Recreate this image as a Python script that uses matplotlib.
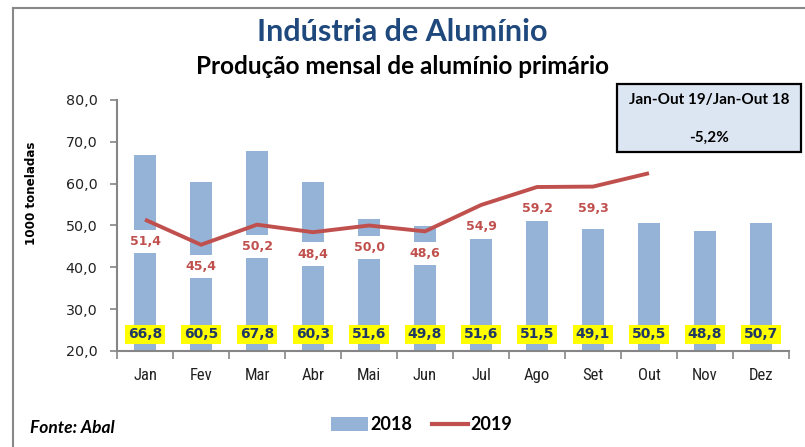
import matplotlib
matplotlib.use("Agg")
import matplotlib.pyplot as plt
from matplotlib import font_manager
from matplotlib.lines import Line2D
from matplotlib.patches import Rectangle, Patch
import matplotlib.transforms as mtrans
import numpy as np

# ---------------- data ----------------
months = ["Jan", "Fev", "Mar", "Abr", "Mai", "Jun", "Jul", "Ago", "Set", "Out", "Nov", "Dez"]
prod_2018 = [66.8, 60.5, 67.8, 60.3, 51.6, 49.8, 51.6, 51.5, 49.1, 50.5, 48.8, 50.7]
prod_2019 = [51.4, 45.4, 50.2, 48.4, 50.0, 48.6, 54.9, 59.2, 59.3, 62.5, np.nan, np.nan]
labels_2019 = ["51,4", "45,4", "50,2", "48,4", "50,0", "48,6", "54,9", "59,2", "59,3", "", "", ""]
labels_2018 = ["66,8", "60,5", "67,8", "60,3", "51,6", "49,8", "51,6", "51,5", "49,1", "50,5", "48,8", "50,7"]
y_ticks = [20, 30, 40, 50, 60, 70, 80]
y_tick_labels = ["20,0", "30,0", "40,0", "50,0", "60,0", "70,0", "80,0"]
title = "Indústria de Alumínio"
subtitle = "Produção mensal de alumínio primário"
ylabel = "1000 toneladas"
source = "Fonte: Abal"
box_line1 = "Jan-Out 19/Jan-Out 18"
box_line2 = "-5,2%"
series_names = ["2018", "2019"]

# ---------------- fonts ----------------
avail = {f.name for f in font_manager.fontManager.ttflist}
def pick(*names):
    for n in names:
        if n in avail:
            return n
    return "DejaVu Sans"
F_HUM = pick("Lato", "Open Sans", "DejaVu Sans")
F_NARROW = pick("Liberation Sans Narrow", "Roboto Condensed", "Lato")
F_WIDE = "DejaVu Sans"

BAR_C = "#95b3d7"
LINE_C = "#c0504d"
NAVY = "#1f3864"

W, H = 805, 447
fig = plt.figure(figsize=(W / 100, H / 100), dpi=100)
fig.patch.set_facecolor("white")

def fx(px):
    return px / W
def fy(py):
    return 1 - py / H

ax = fig.add_axes([fx(117), fy(351), fx(789) - fx(117), fy(100) - fy(351)])
x = np.arange(len(months))

ax.bar(x, prod_2018, width=0.39, color=BAR_C, zorder=2)
ax.plot(x, prod_2019, color=LINE_C, lw=2.8, zorder=5, solid_capstyle="butt")

for i, (v, lab) in enumerate(zip(prod_2019, labels_2019)):
    if lab:
        ax.annotate(lab, xy=(i, v), xytext=(0, -15.8), textcoords="offset points",
                    ha="center", va="center", color=LINE_C, fontsize=9,
                    fontweight="bold", family=F_WIDE, zorder=4,
                    bbox=dict(boxstyle="square,pad=0.42", fc="white", ec="none"))

trans = mtrans.blended_transform_factory(ax.transData, ax.transAxes)
for i, lab in enumerate(labels_2018):
    ax.text(i, 0.067, lab, transform=trans, ha="center", va="center",
            color=NAVY, fontsize=10, fontweight="bold", family=F_WIDE, zorder=6,
            bbox=dict(boxstyle="square,pad=0.18", fc="#ffff00", ec="none"))

ax.set_xlim(-0.5, len(months) - 0.5)
ax.set_ylim(20, 80)
ax.set_yticks(y_ticks)
ax.set_yticklabels(y_tick_labels, family=F_WIDE, fontsize=10.3, color="#222222")
ax.set_xticks(x)
ax.set_xticklabels(months, family=F_NARROW, fontsize=12, color="#222222")
ax.set_xticks(np.arange(-0.5, len(months), 1.0), minor=True)
ax.tick_params(axis="x", which="major", length=0, pad=12)
ax.tick_params(axis="x", which="minor", length=6, color="#868686", width=1.2, direction="out")
ax.tick_params(axis="y", which="major", length=5, color="#868686", width=1.2, pad=9)

for s in ["top", "right"]:
    ax.spines[s].set_visible(False)
for s in ["left", "bottom"]:
    ax.spines[s].set_color("#868686")
    ax.spines[s].set_linewidth(1.5)

ax.set_ylabel(ylabel, family=F_WIDE, fontsize=8.6, fontweight="bold")
ax.yaxis.set_label_coords(fx(38), 0.63,
                          transform=mtrans.blended_transform_factory(fig.transFigure, ax.transAxes))

# titles
fig.text(0.5, fy(32), title, ha="center", va="center", family=F_HUM,
         fontsize=22, fontweight="bold", color="#1f497d")
fig.text(0.5, fy(66), subtitle, ha="center", va="center", family=F_HUM,
         fontsize=17.5, fontweight="bold", color="black")

# stats box
fig.add_artist(Rectangle((fx(617), fy(152)), fx(801) - fx(617), fy(84) - fy(152),
                         transform=fig.transFigure, fc="#dce6f2", ec="black", lw=1.6))
fig.text(fx(709), fy(100), box_line1, ha="center", va="center", family=F_HUM,
         fontsize=11, fontweight="bold")
fig.text(fx(709), fy(138), box_line2, ha="center", va="center", family=F_HUM,
         fontsize=11, fontweight="bold")

# source
fig.text(fx(30), fy(428), source, ha="left", va="center", family=F_HUM,
         fontsize=12.5, fontweight="bold", style="italic")

# legend
handles = [Patch(facecolor=BAR_C, edgecolor="none"),
           Line2D([0], [0], color=LINE_C, lw=3)]
fig.legend(handles, series_names, loc="center", bbox_to_anchor=(fx(422), fy(425)),
           ncol=2, frameon=False, handlelength=2.0, handleheight=0.8,
           handletextpad=0.15, columnspacing=1.1,
           prop=dict(family=F_HUM, size=13, weight="bold"))

# outer frame lines
fig.add_artist(Line2D([fx(13), 1], [fy(8), fy(8)], color="#888888", lw=1.5,
                      transform=fig.transFigure))
fig.add_artist(Line2D([fx(13), fx(13)], [fy(8), 0], color="#888888", lw=1.5,
                      transform=fig.transFigure))

fig.savefig("out.png", dpi=100)
